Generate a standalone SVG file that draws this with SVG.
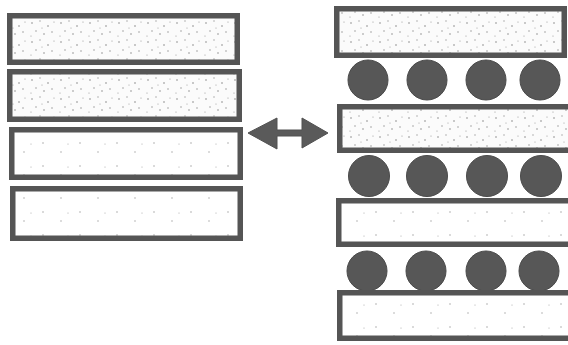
<svg xmlns="http://www.w3.org/2000/svg" width="568" height="345" viewBox="0 0 568 345">
  <defs>
    <pattern id="dense" width="29" height="19" patternUnits="userSpaceOnUse">
      <rect width="29" height="19" fill="#fbfbfb"/>
      <circle cx="3" cy="4" r="0.8" fill="#8a8a8a"/>
      <circle cx="11" cy="2" r="0.7" fill="#9a9a9a"/>
      <circle cx="19" cy="7" r="0.8" fill="#888"/>
      <circle cx="25" cy="3" r="0.6" fill="#999"/>
      <circle cx="7" cy="12" r="0.7" fill="#8c8c8c"/>
      <circle cx="15" cy="15" r="0.8" fill="#909090"/>
      <circle cx="23" cy="13" r="0.7" fill="#8a8a8a"/>
      <circle cx="2" cy="17" r="0.6" fill="#999"/>
      <circle cx="13" cy="9" r="0.6" fill="#a0a0a0"/>
    </pattern>
    <pattern id="sparse" width="37" height="23" patternUnits="userSpaceOnUse">
      <rect width="37" height="23" fill="#ffffff"/>
      <circle cx="6" cy="5" r="0.7" fill="#999"/>
      <circle cx="24" cy="14" r="0.7" fill="#a0a0a0"/>
      <circle cx="31" cy="6" r="0.6" fill="#aaa"/>
    </pattern>
  </defs>
  <style>
    .bar { stroke: #555; stroke-width: 5.5; }
    .d { fill: url(#dense); }
    .s { fill: url(#sparse); }
    .ball { fill: #575757; stroke: #4a4a4a; stroke-width: 1; }
    .arrow { fill: #5a5a5a; stroke: #505050; stroke-width: 1; stroke-linejoin: round; }
  </style>

  <g id="left-stack">
    <g id="L1"><rect class="bar d" x="9.75" y="15.75" width="227.5" height="46.5"/></g>
    <g id="L2"><rect class="bar d" x="9.75" y="71.75" width="229.5" height="47.5"/></g>
    <g id="L3"><rect class="bar s" x="11.75" y="129.75" width="228.5" height="47.5"/></g>
    <g id="L4"><rect class="bar s" x="12.75" y="188.75" width="227.5" height="49.5"/></g>
  </g>

  <g id="connectors">
    <polygon class="arrow" points="248,133 277,118 277,130 302,130 302,118 328,133 302,148 302,136 277,136 277,149"/>
  </g>

  <g id="right-stack">
    <g id="R1"><rect class="bar d" x="336.75" y="8.75" width="227.5" height="46.5"/></g>
    <g id="row1">
      <circle class="ball" cx="368" cy="80" r="20"/>
      <circle class="ball" cx="427" cy="80" r="20"/>
      <circle class="ball" cx="486" cy="80" r="20"/>
      <circle class="ball" cx="540" cy="80" r="20"/>
    </g>
    <g id="R2"><rect class="bar d" x="339.75" y="106.75" width="260" height="43.5"/></g>
    <g id="row2">
      <circle class="ball" cx="369" cy="176" r="20.5"/>
      <circle class="ball" cx="427" cy="176" r="20.5"/>
      <circle class="ball" cx="487" cy="176" r="20.5"/>
      <circle class="ball" cx="541" cy="176" r="20.5"/>
    </g>
    <g id="R3"><rect class="bar s" x="338.75" y="200.75" width="260" height="43.5"/></g>
    <g id="row3">
      <circle class="ball" cx="367" cy="271" r="20"/>
      <circle class="ball" cx="426" cy="271" r="20"/>
      <circle class="ball" cx="486" cy="271" r="20"/>
      <circle class="ball" cx="539" cy="271" r="20"/>
    </g>
    <g id="R4"><rect class="bar s" x="339.75" y="292.75" width="260" height="45.5"/></g>
  </g>
</svg>
